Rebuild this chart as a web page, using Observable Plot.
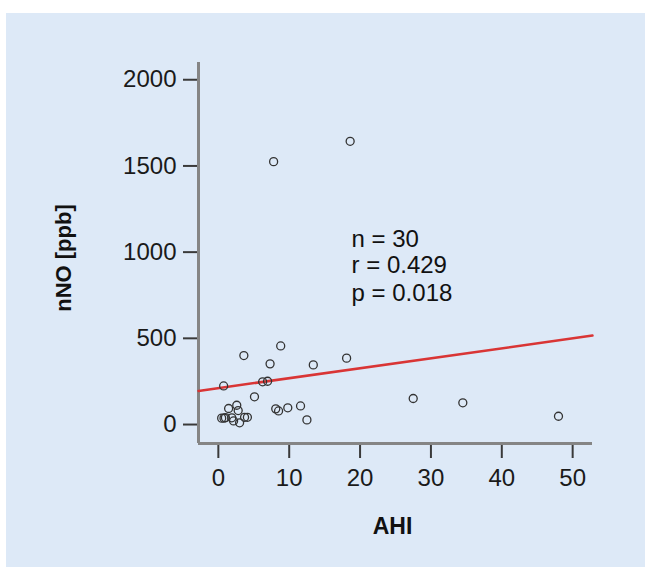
<!DOCTYPE html>
<html>
<head>
<meta charset="utf-8">
<script src="https://cdn.jsdelivr.net/npm/d3@7"></script>
<script src="https://cdn.jsdelivr.net/npm/@observablehq/plot@0.6"></script>
<style>
  html, body { margin: 0; padding: 0; background: #ffffff; width: 645px; height: 567px; overflow: hidden; }
  #panel { position: absolute; left: 6px; top: 13px; width: 639px; height: 554px; background: #dde9f7; }
</style>
</head>
<body>
<div id="panel"></div>
<script>
// Data (AHI vs nNO)
const ahi = [3.6, 8.8, 7.3, 13.4, 18.1, 0.75, 6.25, 6.95, 5.1, 2.6, 1.45, 2.8, 0.47, 0.8, 1.9, 2.15, 3.0, 3.7, 4.1, 8.1, 8.5, 9.8, 11.6, 12.5, 18.6, 27.5, 34.5, 48.0, 7.8, 1.0];
const nno = [400, 456, 352, 346, 385, 224, 248, 251, 161, 112, 93, 81, 37, 37, 39, 21, 10, 42, 42, 91, 79, 97, 108, 27, 1643, 151, 126, 48, 1525, 40];

// Fitted line endpoints (as drawn)
const fitX = [-2.8, 52.8];
const fitY = [195, 516];

// Axis ticks and domains
const xTicks = [0, 10, 20, 30, 40, 50];
const yTicks = [0, 500, 1000, 1500, 2000];
const xDomain = [-2.8, 52.8];
const yDomain = [-110, 2100];

// Annotation
const statLines = ["n = 30", "r = 0.429", "p = 0.018"];
const statX = 18.8;
const statY = [1028, 878, 719];

const xLabel = "AHI";
const yLabel = "nNO [ppb]";

const points = ahi.map((x, i) => ({x, y: nno[i]}));
const fit = fitX.map((x, i) => ({x, y: fitY[i]}));
const stats = statLines.map((t, i) => ({t, x: statX, y: statY[i]}));

const font = "'Liberation Sans', Arial, Helvetica, sans-serif";
const fmt = d3.format("d");

const chart = Plot.plot({
  width: 639,
  height: 554,
  marginLeft: 192,
  marginRight: 53,
  marginTop: 49,
  marginBottom: 124,
  style: {background: "transparent", fontFamily: font, color: "#1a1a1a"},
  x: {domain: xDomain},
  y: {domain: yDomain},
  marks: [
    Plot.axisX({ticks: xTicks, tickFormat: fmt, tickSize: 15, tickPadding: 10, fontSize: 24, label: null, stroke: "#3a3a3a", strokeWidth: 2, fill: "#1a1a1a"}),
    Plot.axisY({ticks: yTicks, tickFormat: fmt, tickSize: 15, tickPadding: 7, fontSize: 24, label: null, stroke: "#3a3a3a", strokeWidth: 2, fill: "#1a1a1a"}),
    Plot.ruleX([xDomain[0]], {y1: yDomain[0], y2: yDomain[1], stroke: "#858585", strokeWidth: 3}),
    Plot.ruleY([yDomain[0]], {x1: xDomain[0], x2: xDomain[1], stroke: "#858585", strokeWidth: 3}),
    Plot.line(fit, {x: "x", y: "y", stroke: "#d93535", strokeWidth: 2.5}),
    Plot.dot(points, {x: "x", y: "y", r: 4, stroke: "#333333", strokeWidth: 1.3, fill: "none"}),
    Plot.text(stats, {x: "x", y: "y", text: "t", textAnchor: "start", lineAnchor: "bottom", fontSize: 24, fill: "#111111"}),
    Plot.text([xLabel], {frameAnchor: "bottom", textAnchor: "middle", dx: -3, dy: 90, lineAnchor: "bottom", fontSize: 23, fontWeight: "bold", fill: "#111111"}),
    Plot.text([yLabel], {frameAnchor: "left", textAnchor: "middle", rotate: -90, dx: -135, dy: 5, fontSize: 22, fontWeight: "bold", fill: "#111111"})
  ]
});
document.getElementById("panel").appendChild(chart);
</script>
</body>
</html>
